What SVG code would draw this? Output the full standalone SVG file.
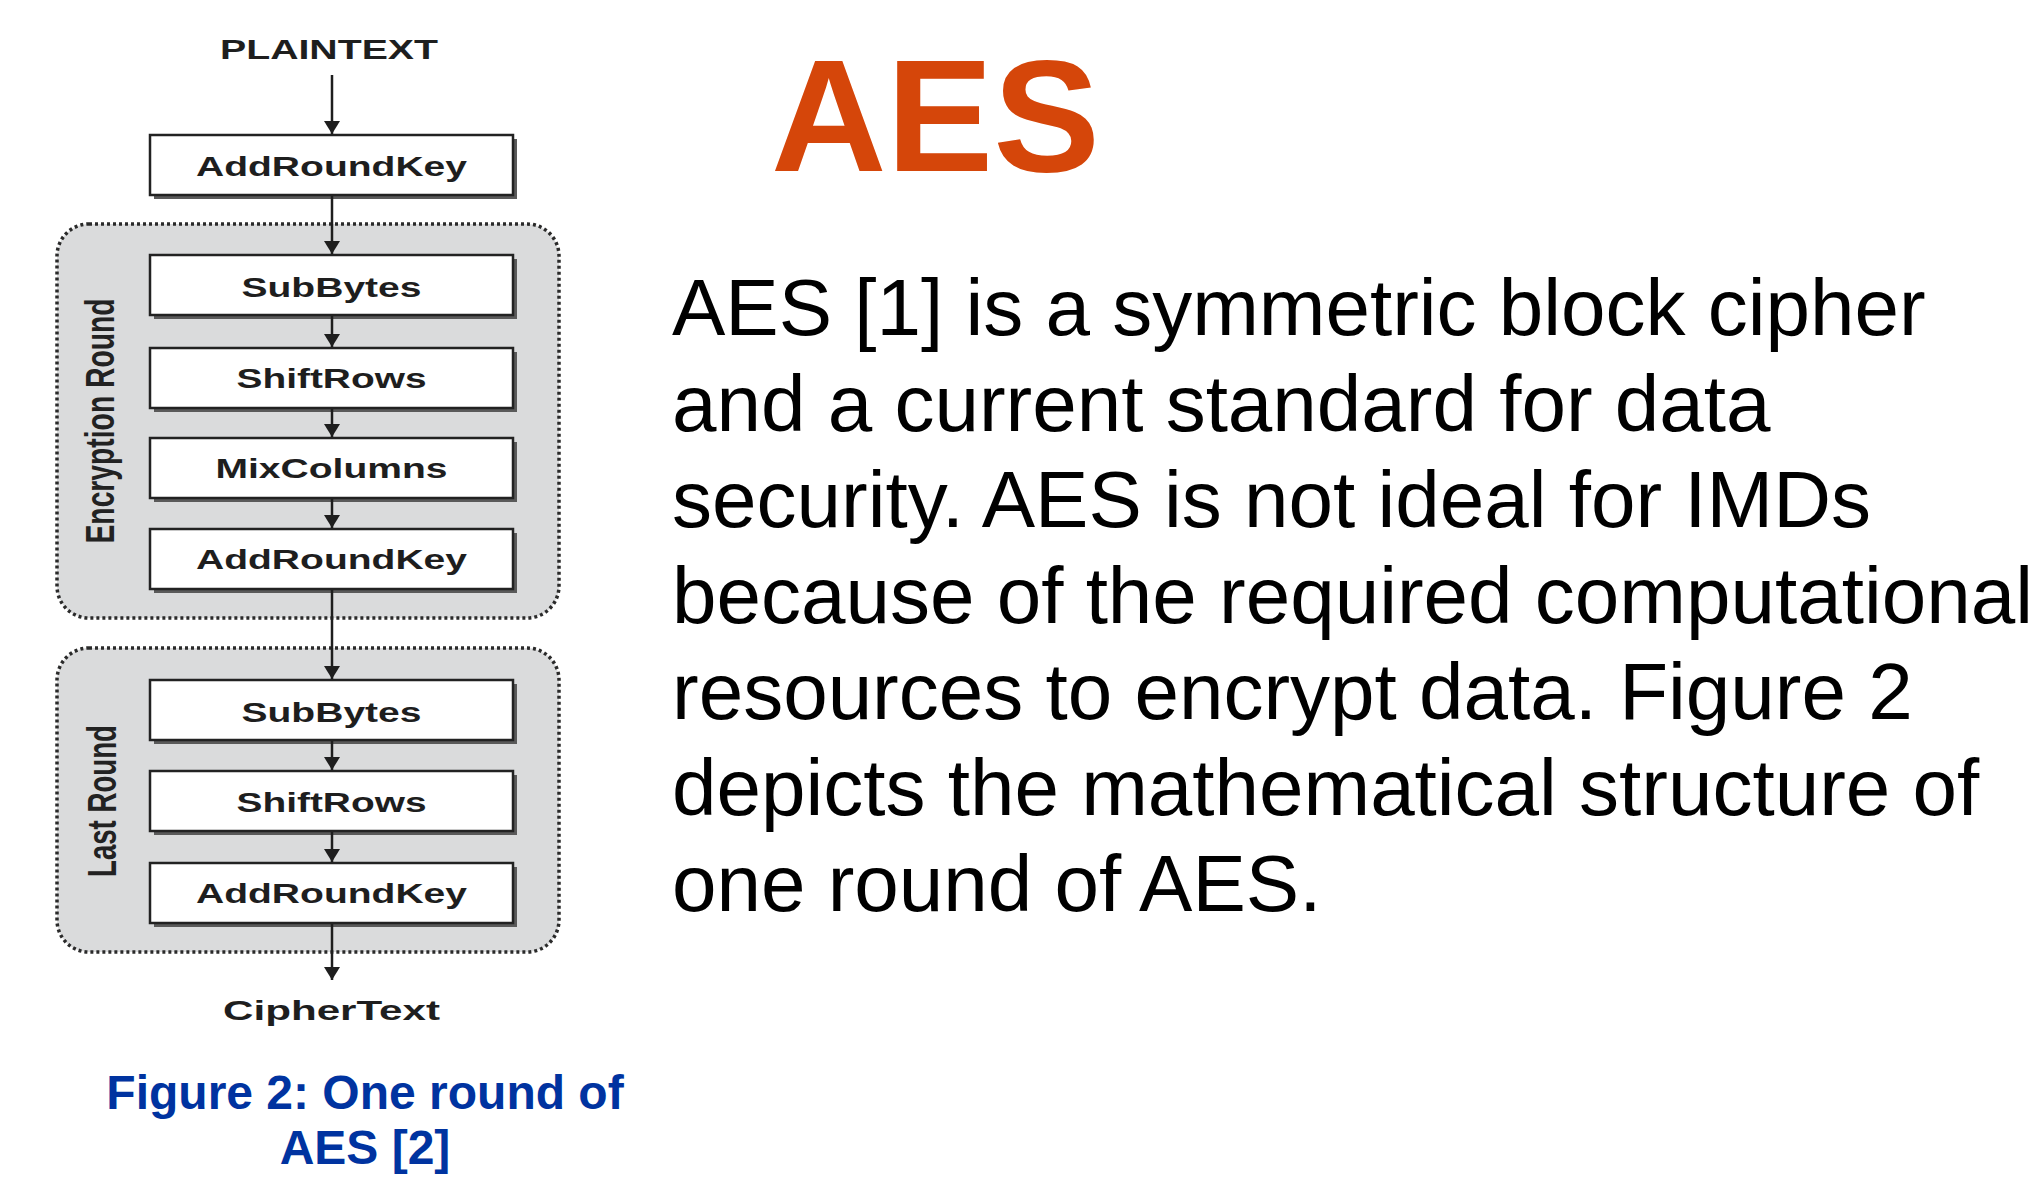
<svg xmlns="http://www.w3.org/2000/svg" width="2040" height="1184" viewBox="0 0 2040 1184">
<defs>
<marker id="arr" markerUnits="userSpaceOnUse" markerWidth="14" markerHeight="16" refX="13" refY="8" orient="auto">
<path d="M0,0 L13,8 L0,16 z" fill="#1e1e1e"/>
</marker>
<style>
.cont{fill:#dadbdc;stroke:#2a2a2a;stroke-width:3.5;stroke-dasharray:3 3}
.shadow{fill:#5a5a5a}
.box{fill:#ffffff;stroke:#222;stroke-width:2.5}
.bt{font-family:"Liberation Sans",Arial,sans-serif;font-weight:bold;font-size:27px;fill:#1e1e1e;text-anchor:middle}
.lbl{font-family:"Liberation Sans",Arial,sans-serif;font-weight:bold;font-size:40px;fill:#222;text-anchor:middle}
.conn line{stroke:#1e1e1e;stroke-width:2.5;marker-end:url(#arr)}
.body{font-family:"Liberation Sans",Arial,sans-serif;font-size:80px;fill:#000}
.cap{font-family:"Liberation Sans",Arial,sans-serif;font-weight:bold;font-size:48px;fill:#0033a0;text-anchor:middle}
</style>
</defs>
<rect width="2040" height="1184" fill="#ffffff"/>

<g id="encryption-round">
<rect class="cont" x="57" y="224" width="502" height="394" rx="32"/>
<text class="lbl" transform="translate(114,421) rotate(-90)" textLength="245" lengthAdjust="spacingAndGlyphs">Encryption Round</text>
</g>
<g id="last-round">
<rect class="cont" x="57" y="648" width="502" height="304" rx="32"/>
<text class="lbl" transform="translate(116,801) rotate(-90)" textLength="152" lengthAdjust="spacingAndGlyphs">Last Round</text>
</g>

<g id="plaintext">
<text class="bt" x="329" y="59" font-size="27" textLength="218" lengthAdjust="spacingAndGlyphs">PLAINTEXT</text>
</g>

<g id="addroundkey-0">
<rect class="shadow" x="154" y="139" width="363" height="60"/>
<rect class="box" x="150" y="135" width="363" height="60"/>
<text class="bt" x="331.5" y="176" textLength="271" lengthAdjust="spacingAndGlyphs">AddRoundKey</text>
</g>
<g id="subbytes-1">
<rect class="shadow" x="154" y="259" width="363" height="60"/>
<rect class="box" x="150" y="255" width="363" height="60"/>
<text class="bt" x="331.5" y="297" textLength="180" lengthAdjust="spacingAndGlyphs">SubBytes</text>
</g>
<g id="shiftrows-1">
<rect class="shadow" x="154" y="352" width="363" height="60"/>
<rect class="box" x="150" y="348" width="363" height="60"/>
<text class="bt" x="331.5" y="388" textLength="190" lengthAdjust="spacingAndGlyphs">ShiftRows</text>
</g>
<g id="mixcolumns-1">
<rect class="shadow" x="154" y="442" width="363" height="60"/>
<rect class="box" x="150" y="438" width="363" height="60"/>
<text class="bt" x="331.5" y="478" textLength="232" lengthAdjust="spacingAndGlyphs">MixColumns</text>
</g>
<g id="addroundkey-1">
<rect class="shadow" x="154" y="533" width="363" height="60"/>
<rect class="box" x="150" y="529" width="363" height="60"/>
<text class="bt" x="331.5" y="569" textLength="271" lengthAdjust="spacingAndGlyphs">AddRoundKey</text>
</g>
<g id="subbytes-2">
<rect class="shadow" x="154" y="684" width="363" height="60"/>
<rect class="box" x="150" y="680" width="363" height="60"/>
<text class="bt" x="331.5" y="722" textLength="180" lengthAdjust="spacingAndGlyphs">SubBytes</text>
</g>
<g id="shiftrows-2">
<rect class="shadow" x="154" y="775" width="363" height="60"/>
<rect class="box" x="150" y="771" width="363" height="60"/>
<text class="bt" x="331.5" y="812" textLength="190" lengthAdjust="spacingAndGlyphs">ShiftRows</text>
</g>
<g id="addroundkey-2">
<rect class="shadow" x="154" y="867" width="363" height="60"/>
<rect class="box" x="150" y="863" width="363" height="60"/>
<text class="bt" x="331.5" y="903" textLength="271" lengthAdjust="spacingAndGlyphs">AddRoundKey</text>
</g>
<g id="ciphertext">
<text class="bt" x="331.5" y="1020" textLength="217" lengthAdjust="spacingAndGlyphs">CipherText</text>
</g>

<g id="connectors" class="conn">
<line x1="332" y1="75" x2="332" y2="134"/>
<line x1="332" y1="196" x2="332" y2="254"/>
<line x1="332" y1="316" x2="332" y2="347"/>
<line x1="332" y1="409" x2="332" y2="437"/>
<line x1="332" y1="499" x2="332" y2="528"/>
<line x1="332" y1="590" x2="332" y2="679"/>
<line x1="332" y1="741" x2="332" y2="770"/>
<line x1="332" y1="832" x2="332" y2="862"/>
<line x1="332" y1="924" x2="332" y2="980"/>
</g>

<g id="caption">
<text class="cap" x="365" y="1109">Figure 2: One round of</text>
<text class="cap" x="365" y="1164">AES [2]</text>
</g>

<g id="title">
<text x="771" y="171" font-family="'Liberation Sans',Arial,sans-serif" font-weight="bold" font-size="160" fill="#d5460a">AES</text>
</g>

<g id="body-text" class="body">
<text x="672" y="335">AES [1] is a symmetric block cipher</text>
<text x="672" y="431">and a current standard for data</text>
<text x="672" y="527">security. AES is not ideal for IMDs</text>
<text x="672" y="623">because of the required computational</text>
<text x="672" y="719">resources to encrypt data. Figure 2</text>
<text x="672" y="815">depicts the mathematical structure of</text>
<text x="672" y="911">one round of AES.</text>
</g>
</svg>
